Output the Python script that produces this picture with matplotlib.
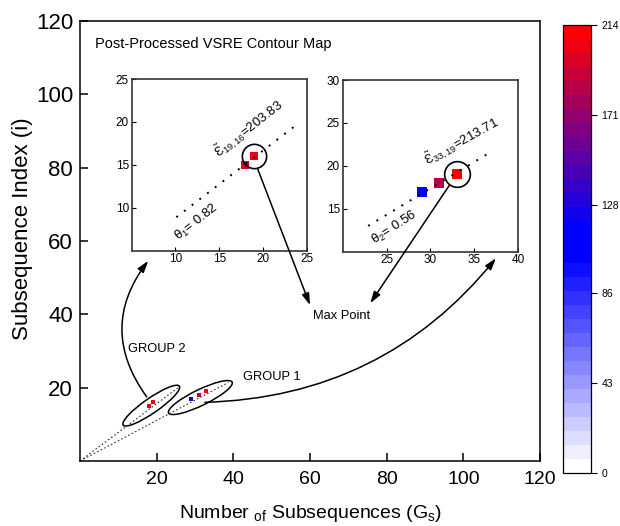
import matplotlib
matplotlib.use('Agg')
import matplotlib.pyplot as plt
from matplotlib.colors import LinearSegmentedColormap, Normalize
from matplotlib.patches import Ellipse
import matplotlib.cm as cm

plt.rcParams['font.family'] = ['Liberation Sans', 'DejaVu Sans']
plt.rcParams['mathtext.fontset'] = 'custom'
plt.rcParams['mathtext.rm'] = 'Liberation Sans'
plt.rcParams['mathtext.it'] = 'Liberation Sans:italic'
plt.rcParams['mathtext.bf'] = 'Liberation Sans:bold'

# --- data ---
group1_x = [29, 31, 33]
group1_y = [17, 18, 19]
group1_val = [112, 186, 213.71]

group2_x = [18, 19]
group2_y = [15, 16]
group2_val = [196, 203.83]

theta1 = 0.82
theta2 = 0.56
max1_label = '19,16'
max2_label = '33,19'
max1_val = 203.83
max2_val = 213.71

# dotted trend lines in the main plot
trend2_x = [0, 25.6]
trend2_y = [0, 20.0]
trend1_x = [0, 38.7]
trend1_y = [0, 21.4]

# dotted trend lines in the zoomed insets
inset1_line_x = [10.1, 23.5]
inset1_line_y = [8.9, 19.4]
inset2_line_x = [22.9, 37.0]
inset2_line_y = [13.0, 21.7]

main_ticks = [20, 40, 60, 80, 100, 120]
inset1_ticks = [10, 15, 20, 25]
inset2_xticks = [25, 30, 35, 40]
inset2_yticks = [15, 20, 25, 30]
cbar_ticks = [0, 43, 86, 128, 171, 214]
vmin, vmax = 0, 214

# annotation arrows (start, tip) in main-axes data units
arrow_max1 = [(46.3, 79.8), (60.0, 42.5)]
arrow_max2 = [(96.3, 75.1), (75.7, 43.0)]
arrow_group2 = [(17.4, 17.5), (17.8, 54.6)]
arrow_group1 = [(32.6, 16.0), (108.5, 55.3)]

# colormap: white -> blue -> red, stepped
cmap = LinearSegmentedColormap.from_list(
    'vsre', [(0, 'white'), (0.48, 'blue'), (0.55, 'blue'), (1, 'red')]).resampled(32)
norm = Normalize(vmin, vmax)

fig = plt.figure(figsize=(6.2, 5.26), dpi=100)

# insets (drawn first, main axes sits on top with transparent patch)
ax1 = fig.add_axes([0.2124, 0.5234, 0.2823, 0.3264])
ax2 = fig.add_axes([0.5527, 0.5215, 0.2832, 0.3264])
ax = fig.add_axes([0.129, 0.1236, 0.742, 0.8365])
ax.set_zorder(5)
ax.patch.set_visible(False)

# main plot
ax.set_xlim(0, 120)
ax.set_ylim(0, 120)
ax.set_xticks(main_ticks)
ax.set_yticks(main_ticks)
ax.tick_params(direction='in', length=6, width=1.1)
ax.tick_params(axis='x', labelsize=14, pad=7)
ax.tick_params(axis='y', labelsize=16, pad=5)
for s in ax.spines.values():
    s.set_linewidth(1.1)
ax.set_xlabel(r'Number $_{\mathregular{of}}$ Subsequences (G$_{\mathregular{s}}$)', fontsize=14)
ax.xaxis.set_label_coords(0.502, -0.12)
ax.xaxis.label.set_va('center')
ax.set_ylabel('Subsequence Index (i)', fontsize=16)
ax.yaxis.set_label_coords(-0.126, 0.528)
ax.yaxis.label.set_va('center')

ax.plot(trend2_x, trend2_y, color='#333333', lw=0.8, ls=(0, (1.5, 2)))
ax.plot(trend1_x, trend1_y, color='#333333', lw=0.8, ls=(0, (1.5, 2)))
for x, y, v in zip(group2_x + group1_x, group2_y + group1_y, group2_val + group1_val):
    ax.plot(x, y, 's', ms=3.2, color=cmap(norm(v)), mew=0)

ax.add_patch(Ellipse((18.6, 15.1), 18.1, 4.0, angle=36, fill=False, lw=1.1, ec='black'))
ax.add_patch(Ellipse((31.4, 17.3), 18.6, 4.3, angle=27, fill=False, lw=1.1, ec='black'))

ax.text(3.9, 113.7, 'Post-Processed VSRE Contour Map', fontsize=10.5, ha='left', va='center')
ax.text(68.2, 39.5, 'Max Point', fontsize=9.3, ha='center', va='center')
ax.text(20.1, 30.5, 'GROUP 2', fontsize=9.3, ha='center', va='center')
ax.text(50.0, 23.0, 'GROUP 1', fontsize=9.3, ha='center', va='center')

arrow_kw = dict(arrowstyle='-|>,head_length=0.7,head_width=0.22', color='black',
                lw=1.1, shrinkA=0, shrinkB=0, mutation_scale=10)
for (start, tip), rad in [(arrow_max1, 0), (arrow_max2, 0),
                          (arrow_group2, -0.37), (arrow_group1, 0.23)]:
    ax.annotate('', xy=tip, xytext=start,
                arrowprops=dict(connectionstyle=f'arc3,rad={rad}', **arrow_kw))

# inset 1 (group 2)
ax1.set_xlim(5, 25)
ax1.set_ylim(5, 25)
ax1.set_xticks(inset1_ticks)
ax1.set_yticks(inset1_ticks)
ax1.plot(inset1_line_x, inset1_line_y, color='black', lw=1.4, ls=(0, (1, 4)), zorder=4)
for x, y, v in zip(group2_x, group2_y, group2_val):
    ax1.plot(x, y, 's', ms=6.3, color=cmap(norm(v)), mew=0, zorder=3)
ax1.plot(group2_x[-1], group2_y[-1], 'o', ms=17.5, mfc='none', mec='black', mew=1.2, zorder=5)
ax1.text(18.4, 19.2, r'$\tilde{\mathregular{Ɛ}}_{\mathregular{%s}}$=%.2f' % (max1_label, max1_val),
         fontsize=9.5, rotation=38, ha='center', va='center', rotation_mode='anchor')
ax1.text(12.4, 8.3, r'θ$_{\mathregular{1}}$= %.2f' % theta1,
         fontsize=9.5, rotation=38, ha='center', va='center', rotation_mode='anchor')

# inset 2 (group 1)
ax2.set_xlim(20, 40)
ax2.set_ylim(10, 30)
ax2.set_xticks(inset2_xticks)
ax2.set_yticks(inset2_yticks)
ax2.plot(inset2_line_x, inset2_line_y, color='black', lw=1.4, ls=(0, (1, 4)), zorder=4)
for x, y, v in zip(group1_x, group1_y, group1_val):
    ax2.plot(x, y, 's', ms=6.5, color=cmap(norm(v)), mew=0, zorder=3)
ax2.plot(group1_x[-1], group1_y[-1], 'o', ms=18.5, mfc='none', mec='black', mew=1.2, zorder=5)
ax2.text(33.5, 22.9, r'$\tilde{\mathregular{Ɛ}}_{\mathregular{%s}}$=%.2f' % (max2_label, max2_val),
         fontsize=9.5, rotation=29, ha='center', va='center', rotation_mode='anchor')
ax2.text(25.9, 12.8, r'θ$_{\mathregular{2}}$= %.2f' % theta2,
         fontsize=9.5, rotation=33, ha='center', va='center', rotation_mode='anchor')

for a in (ax1, ax2):
    a.tick_params(direction='in', length=3, width=0.8, labelsize=8.5, pad=2)
    for s in a.spines.values():
        s.set_linewidth(1.2)
        s.set_color('#333333')

# colorbar
cax = fig.add_axes([0.908, 0.1008, 0.045, 0.852])
cb = fig.colorbar(cm.ScalarMappable(norm=norm, cmap=cmap), cax=cax, ticks=cbar_ticks)
cb.outline.set_linewidth(0.9)
cax.tick_params(labelsize=7.5, length=4, width=0.8)

fig.savefig('out.png', dpi=100)
